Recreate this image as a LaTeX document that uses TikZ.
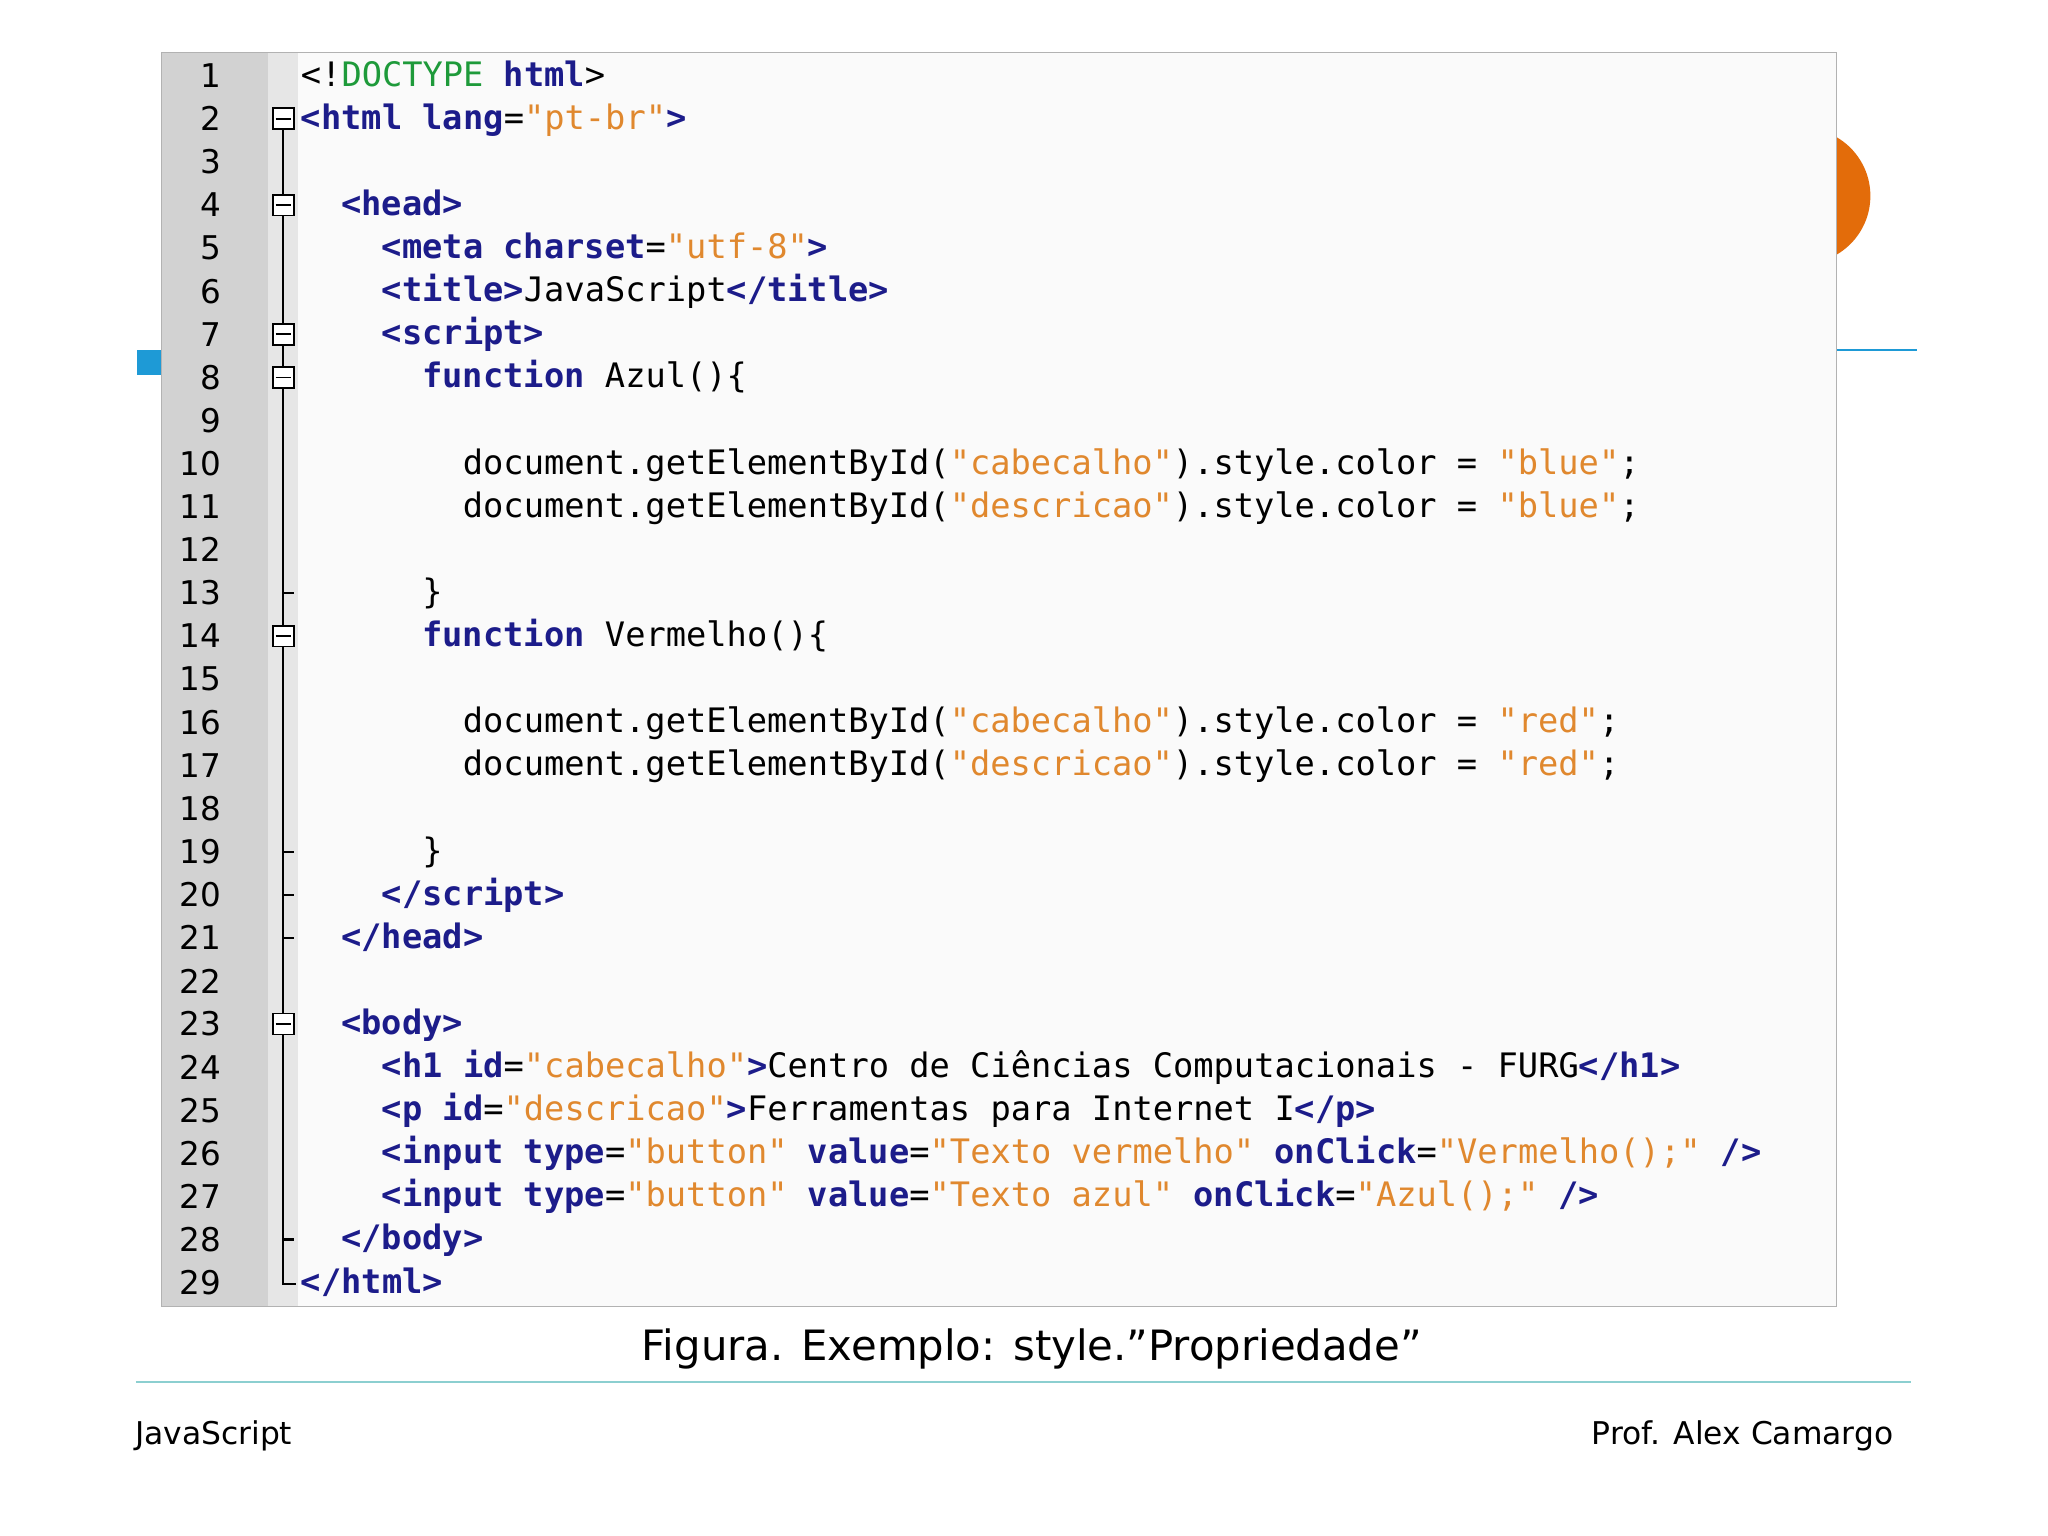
\documentclass[tikz,border=0pt]{standalone}
\usepackage{fontspec}
\setmainfont{DejaVu Sans}
\setmonofont{DejaVu Sans Mono}
\definecolor{navy}{HTML}{1C1C8A}
\definecolor{str}{HTML}{E0882E}
\definecolor{dgreen}{HTML}{1E9A3A}
\definecolor{gut}{HTML}{D2D2D2}
\definecolor{fold}{HTML}{E6E6E6}
\definecolor{teal}{HTML}{8CCFD0}
\definecolor{sblue}{HTML}{1E9AD6}
\definecolor{orng}{HTML}{E36C0A}
\newcommand{\K}[1]{\textbf{\color{navy}#1}}
\newcommand{\Q}[1]{{\color{str}#1}}
\begin{document}
\begin{tikzpicture}[x=0.5pt,y=-0.5pt,
  code/.style={anchor=west,inner sep=0pt,font=\ttfamily\fontsize{12.9}{15}\selectfont},
  num/.style={anchor=east,inner sep=0pt,font=\fontsize{12.5}{15}\selectfont},
  fbox/.style={draw=black,fill=white,line width=0.7pt,minimum size=8pt,inner sep=0pt}]
\useasboundingbox (0,0) rectangle (1568,1176);
\fill[white] (0,0) rectangle (1568,1176);
% background slide decorations
\fill[orng] (1380,150) circle (52);
\fill[sblue] (105,268) rectangle (126,287);
\draw[sblue,line width=1pt] (1406,268) -- (1468,268);
% panel
\fill[white!98!black] (124,40) rectangle (1406,1000);
\fill[gut] (124,40) rectangle (205,1000);
\fill[fold] (205,40) rectangle (228,1000);
\draw[gray!60] (124,40) rectangle (1406,1000);
% line numbers
\foreach \i in {1,...,29}{\node[num] (n\i) at (170,{58+33*(\i-1)}) {\i};}
% fold column
\coordinate (ftop) at (217,91);
\coordinate (fbot) at (217,983);
\draw[line width=0.8pt] (ftop) -- (fbot) -- ++(10,0);
\foreach \i in {13,19,20,21,28}{\draw[line width=0.8pt] (217,{58+33*(\i-1)}) -- ++(8,0);}
\foreach \i in {2,4,7,8,14,23}{\node[fbox] (f\i) at (217,{91+33*(\i-2)}) {}; \draw[line width=0.7pt] (211,{91+33*(\i-2)}) -- (223,{91+33*(\i-2)});}
% code
\def\cw{15.5}
\newcommand{\cl}[3]{\node[code] (c#1) at ({230+\cw*#2},{60+33*(#1-1)}) {\strut #3};}
\cl{1}{0}{<!{\color{dgreen}DOCTYPE} \K{html}>}
\cl{2}{0}{\K{<html lang}=\Q{"pt-br"}\K{>}}
\cl{4}{2}{\K{<head>}}
\cl{5}{4}{\K{<meta charset}=\Q{"utf-8"}\K{>}}
\cl{6}{4}{\K{<title>}JavaScript\K{</title>}}
\cl{7}{4}{\K{<script>}}
\cl{8}{6}{\K{function} Azul()\{}
\cl{10}{8}{document.getElementById(\Q{"cabecalho"}).style.color = \Q{"blue"};}
\cl{11}{8}{document.getElementById(\Q{"descricao"}).style.color = \Q{"blue"};}
\cl{13}{6}{\}}
\cl{14}{6}{\K{function} Vermelho()\{}
\cl{16}{8}{document.getElementById(\Q{"cabecalho"}).style.color = \Q{"red"};}
\cl{17}{8}{document.getElementById(\Q{"descricao"}).style.color = \Q{"red"};}
\cl{19}{6}{\}}
\cl{20}{4}{\K{</script>}}
\cl{21}{2}{\K{</head>}}
\cl{23}{2}{\K{<body>}}
\cl{24}{4}{\K{<h1 id}=\Q{"cabecalho"}\K{>}Centro de Ciências Computacionais - FURG\K{</h1>}}
\cl{25}{4}{\K{<p id}=\Q{"descricao"}\K{>}Ferramentas para Internet I\K{</p>}}
\cl{26}{4}{\K{<input type}=\Q{"button"} \K{value}=\Q{"Texto vermelho"} \K{onClick}=\Q{"Vermelho();"} \K{/>}}
\cl{27}{4}{\K{<input type}=\Q{"button"} \K{value}=\Q{"Texto azul"} \K{onClick}=\Q{"Azul();"} \K{/>}}
\cl{28}{2}{\K{</body>}}
\cl{29}{0}{\K{</html>}}
% caption and footer
\node[font=\fontsize{16}{19}\selectfont] (cap) at (790,1033) {Figura. Exemplo: style.”Propriedade”};
\draw[teal,line width=0.8pt] (104,1058) -- (1463,1058);
\node[anchor=west,inner sep=0pt,font=\fontsize{12}{14}\selectfont] (f1) at (103,1099) {JavaScript};
\node[anchor=east,inner sep=0pt,font=\fontsize{12}{14}\selectfont] (f2) at (1450,1099) {Prof. Alex Camargo};
\end{tikzpicture}
\end{document}
